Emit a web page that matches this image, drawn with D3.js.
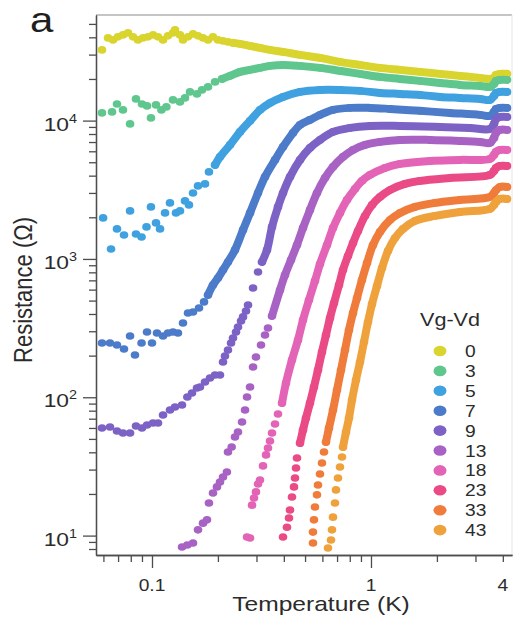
<!DOCTYPE html>
<html>
<head>
<meta charset="utf-8">
<script src="https://cdn.jsdelivr.net/npm/d3@7"></script>
<style>
  html, body { margin: 0; padding: 0; background: #fff; }
  svg { display: block; font-family: "Liberation Sans", Arial, Helvetica, sans-serif; }
</style>
</head>
<body>
<svg id="chart" width="514" height="624"></svg>
<script>
// Gate offset (Vg - Vd) of each trace, with its colour
const gateLabels = ["0", "3", "5", "7", "9", "13", "18", "23", "33", "43"];
const seriesColors = ["#d9d42e", "#5fc78e", "#3fa1df", "#4c7bca", "#7d62c6", "#a862c4", "#e364b6", "#ea4a85", "#ef7c3b", "#efa23b"];
// Temperature (K) above which each sweep is sampled densely enough to read as a solid trace
const traceOnset = [0.23, 0.20, 0.19, 0.178, 0.315, 0.35, 0.39, 0.47, 0.62, 0.74];

// Resistance (ohm) versus temperature (K), one array per gate offset
const r0 = [[0.0591,32450],[0.0630,39630],[0.0664,38330],[0.0699,40300],[0.0737,41660],[0.0777,43060],[0.0819,40300],[0.0863,38330],[0.0910,39630],[0.0959,40300],[0.1011,41660],[0.1065,40300],[0.1123,38330],[0.1183,40980],[0.1247,43060],[0.1274,45270],[0.1342,41660],[0.1385,38330],[0.1460,40300],[0.1539,42350],[0.1622,40980],[0.1710,39630],[0.1802,38330],[0.1899,40300],[0.2001,38330],[0.2110,37700],[0.2223,37070],
  [0.2344,36460],[0.2523,35860],[0.2803,34680],[0.3113,33550],[0.3458,32450],[0.3965,31390],[0.4741,29850],[0.5849,28390],[0.7219,26580],[0.8909,25280],[1.099,24060],[1.357,23270],[1.674,22500],[2.066,21770],[2.549,21050],[3.146,20360],[3.494,20020],[3.645,20360],[3.723,21410],[3.882,21770],[4.091,21770],[4.178,21770]];
const r3 = [[0.0591,11370],[0.0657,11560],[0.0692,13200],[0.0737,11950],[0.0794,9465],[0.0845,14350],[0.0900,13200],[0.0949,12770],[0.0989,10460],[0.1043,12990],[0.1104,11950],[0.1163,12560],[0.1247,14110],[0.1342,13650],[0.1415,14590],[0.1491,16130],[0.1605,15600],[0.1692,16670],[0.1802,17530],[0.1940,19050],
  [0.2088,20020],[0.2271,21050],[0.2523,22500],[0.2803,23270],[0.3113,24060],[0.3458,24870],[0.3965,25280],[0.4741,24870],[0.5849,24060],[0.7219,22880],[0.8909,21770],[1.099,20700],[1.357,20020],[1.674,19370],[2.066,18730],[2.549,18120],[3.146,17820],[3.494,17530],[3.645,18420],[3.723,19370],[3.882,19700],[4.178,19700]];
const r5 = [[0.0598,1980],[0.0650,1181],[0.0692,1648],[0.0745,1491],[0.0794,2225],[0.0845,1516],[0.0896,1442],[0.0944,1704],[0.0989,2378],[0.1043,1822],[0.1088,1648],[0.1147,2151],[0.1208,2541],[0.1287,2151],[0.1342,2225],[0.1415,2627],[0.1475,2458],[0.1539,3000],[0.1622,3372],[0.1746,3486],[0.1820,4257],
  [0.1940,4783],[0.2044,5465],[0.2271,6673],[0.2523,8285],[0.2803,9950],[0.3113,11950],[0.3458,13420],[0.3965,14840],[0.4741,16130],[0.5849,16670],[0.7219,16670],[0.8909,16400],[1.099,15860],[1.357,15600],[1.674,15340],[2.066,14840],[2.549,14590],[3.146,14350],[3.494,14110],[3.645,15090],[3.723,15860],[3.882,16130],[4.178,16130]];
const r7 = [[0.0591,247],[0.0643,247],[0.0692,238.9],[0.0745,223.5],[0.0794,277.5],[0.0836,202.3],[0.0896,247],[0.0949,296.7],[0.1000,247],[0.1054,291.7],[0.1123,277.5],[0.1183,291.7],[0.1247,296.7],[0.1314,291.7],[0.1385,344.6],[0.1460,406.9],[0.1539,413.7],[0.1639,442.3],[0.1728,489],
  [0.1802,549.1],[0.1899,648.6],[0.2001,728.8],[0.2110,832.7],[0.2223,951],[0.2393,1162],[0.2604,1621],[0.2803,2151],[0.3048,3000],[0.3281,3917],[0.3645,5199],[0.3965,6455],[0.4404,8150],[0.4741,9310],[0.5265,10120],[0.5849,11000],[0.6707,11950],[0.8020,12360],[0.9895,12360],[1.221,12150],[1.674,11760],[2.295,11370],[3.146,11000],[3.494,10820],[3.645,11560],[3.723,12150],[3.882,12360],[4.178,12360]];
const r9 = [[0.0591,60.0],[0.0643,61.0],[0.0692,57.1],[0.0737,55.2],[0.0794,55.2],[0.0845,62.0],[0.0900,60.0],[0.0949,63.1],[0.1011,65.2],[0.1065,65.2],[0.1123,74.5],[0.1208,80.9],[0.1274,85.1],[0.1371,88.0],[0.1450,100.5],[0.1523,107.4],[0.1605,116.8],[0.1656,118.7],[0.1746,129.0],[0.1840,137.9],[0.1940,145.0],[0.2044,145.0],[0.2110,180.0],[0.2154,198.9],[0.2223,219.8],[0.2296,247.0],[0.2344,268.5],[0.2419,296.7],[0.2470,322.4],[0.2550,356.2],[0.2604,381],[0.2687,420.7],[0.2745,465.0],[0.2893,617.0],[0.3048,805],
  [0.3178,951],[0.3351,1162],[0.3532,1704],[0.3761,2378],[0.3965,3000],[0.4267,3917],[0.4741,5199],[0.5265,6350],[0.5849,7252],[0.6707,8285],[0.8020,8856],[0.9895,9155],[1.357,9155],[2.066,9004],[2.832,8856],[3.494,8711],[3.645,9465],[3.723,10290],[3.882,10640],[4.178,10640]];
const r13 = [[0.1371,8.27],[0.1450,8.55],[0.1539,8.84],[0.1622,11.0],[0.1710,12.3],[0.1783,13.0],[0.1820,17.2],[0.1899,20.3],[0.1980,22.5],[0.2044,24.4],[0.2110,26.5],[0.2198,28.8],[0.2223,40.2],[0.2311,43.7],[0.2393,51.6],[0.2470,56.1],[0.2577,66.3],[0.2660,80.9],[0.2716,100.5],[0.2803,118.7],[0.2893,165.6],[0.2984,195.6],[0.3146,238.9],[0.3281,282.2],[0.3386,317.1],
  [0.3532,387.1],[0.3842,596.7],[0.4049,766.1],[0.4312,983.5],[0.4593,1262],[0.4893,1676],[0.5265,2262],[0.5667,3000],[0.6166,3852],[0.6707,4626],[0.7451,5465],[0.8277,6140],[0.9389,6673],[1.099,7015],[1.357,7252],[1.859,7252],[2.549,7133],[3.146,7015],[3.494,6900],[3.645,7496],[3.723,8150],[3.882,8566],[4.178,8566]];
const r18 = [[0.2716,9.77],[0.2803,9.61],[0.2863,16.6],[0.2923,18.7],[0.2984,20.7],[0.3048,23.6],[0.3113,25.2],[0.3213,31.9],[0.3317,38.3],[0.3386,43.0],[0.3458,48.3],[0.3532,55.2],[0.3645,64.1],[0.3761,75.7],
  [0.3924,90.9],[0.4092,126.9],[0.4358,186.1],[0.4642,259.7],[0.4893,362.2],[0.5210,505.3],[0.5549,693.6],[0.5849,920.2],[0.6297,1262],[0.6707,1676],[0.7219,2151],[0.7771,2671],[0.8453,3208],[0.9095,3665],[0.9895,4049],[1.158,4550],[1.357,4864],[1.859,5113],[2.549,5199],[3.494,5287],[3.645,5650],[3.723,5952],[3.882,6140],[4.178,6140]];
const r23 = [[0.3965,9.77],[0.4134,11.5],[0.4222,13.4],[0.4267,15.3],[0.4358,19.0],[0.4451,22.5],[0.4498,26.1],[0.4545,30.8],[0.4593,36.4],
  [0.4741,46.7],[0.4893,58.0],[0.5047,70.8],[0.5265,90.9],[0.5491,118.7],[0.5728,157.5],[0.5973,212.6],[0.6231,282.2],[0.6498,374.5],[0.6778,480.7],[0.7144,648.6],[0.7451,832.7],[0.7852,1051],[0.8277,1305],[0.8724,1594],[0.9389,2046],[1.011,2458],[1.099,2807],[1.221,3154],[1.430,3486],[1.674,3665],[2.295,3852],[3.494,4049],[3.645,4328],[3.723,4550],[3.882,4704],[4.178,4704]];
const r33 = [[0.5433,8.84],[0.5433,10.6],[0.5491,13.0],[0.5549,16.1],[0.5667,19.7],[0.5728,23.2],[0.5849,27.9],[0.5973,33.5],[0.6101,40.2],
  [0.6231,47.5],[0.6430,60.0],[0.6707,80.9],[0.6994,112.9],[0.7297,157.5],[0.7609,219.8],[0.7935,306.7],[0.8277,406.9],[0.8633,522.4],[0.9095,705],[0.9592,935.6],[1.021,1262],[1.099,1568],[1.221,1914],[1.357,2151],[1.588,2378],[1.960,2541],[2.549,2671],[3.494,2807],[3.645,3000],[3.723,3154],[3.882,3316],[4.178,3316]];
const r43 = [[0.6363,8.13],[0.6567,9.29],[0.6637,11.0],[0.6707,13.6],[0.6849,17.2],[0.6921,21.4],[0.7069,26.1],[0.7219,31.3],[0.7373,37.0],
  [0.7451,43.7],[0.7690,56.1],[0.7935,70.8],[0.8191,95.6],[0.8543,133.4],[0.8909,180.0],[0.9291,251.2],[0.9690,350.3],[1.011,472.8],[1.065,637.8],[1.123,860.9],[1.196,1143],[1.287,1418],[1.400,1648],[1.588,1883],[1.960,2046],[2.549,2187],[3.494,2300],[3.645,2458],[3.723,2584],[3.882,2716],[4.178,2716]];
const seriesData = [r0, r3, r5, r7, r9, r13, r18, r23, r33, r43];

// Axis ticks and their labels
const xMinorTicks = [0.06, 0.07, 0.08, 0.09, 0.2, 0.3, 0.4, 0.5, 0.6, 0.7, 0.8, 0.9, 2, 3, 4];
const xMajorTicks = [0.1, 1];
const xLabelValues = [0.1, 1, 4];
const xLabelText = ["0.1", "1", "4"];
const yMajorTicks = [10, 100, 1000, 10000];
const yExponents = ["1", "2", "3", "4"];
const yMinorTicks = [8, 9, 20, 30, 40, 50, 60, 70, 80, 90, 200, 300, 400, 500, 600, 700, 800, 900,
  2000, 3000, 4000, 5000, 6000, 7000, 8000, 9000, 20000, 30000, 40000, 50000];

const svg = d3.select("#chart");
const textColor = "#2b2b2b";
const axisColor = "#4d4d4d";
const stretch = "scale(1.2,1)";

const x = d3.scaleLog().domain([0.0555, 4.405]).range([96, 512]);
const y = d3.scaleLog().domain([7.24, 58000]).range([555, 15]);
const [x0, x1] = x.range();
const [yBottom, yTop] = y.range();

// frame: light top and right edges
svg.append("line").attr("x1", x0).attr("x2", x1).attr("y1", yTop).attr("y2", yTop)
  .attr("stroke", "#8c8c8c").attr("stroke-width", 1.2);
svg.append("line").attr("x1", x1).attr("x2", x1).attr("y1", yTop).attr("y2", yBottom)
  .attr("stroke", "#e6e6e6").attr("stroke-width", 1);

function styleAxis(g) {
  g.selectAll("path, line").attr("stroke", axisColor).attr("stroke-width", 1.3);
  g.selectAll("text").remove();
}

// bottom axis: short minor ticks, long decade ticks
svg.append("g").attr("transform", `translate(0,${yBottom})`)
  .call(d3.axisBottom(x).tickValues(xMinorTicks).tickSize(7).tickSizeOuter(0).tickFormat(""))
  .call(styleAxis);
svg.append("g").attr("transform", `translate(0,${yBottom})`)
  .call(d3.axisBottom(x).tickValues(xMajorTicks).tickSize(13).tickSizeOuter(0).tickFormat(""))
  .call(styleAxis);

// left axis
svg.append("g").attr("transform", `translate(${x0},0)`)
  .call(d3.axisLeft(y).tickValues(yMinorTicks).tickSize(7).tickSizeOuter(0).tickFormat(""))
  .call(styleAxis);
svg.append("g").attr("transform", `translate(${x0},0)`)
  .call(d3.axisLeft(y).tickValues(yMajorTicks).tickSize(13).tickSizeOuter(0).tickFormat(""))
  .call(styleAxis);

// tick labels
xLabelValues.forEach((v, i) => {
  svg.append("text")
    .attr("transform", `translate(${x(v)},591) ${stretch}`)
    .attr("text-anchor", "middle").attr("font-size", 16).attr("fill", textColor)
    .text(xLabelText[i]);
});
yMajorTicks.forEach((v, i) => {
  const t = svg.append("text")
    .attr("transform", `translate(${x0 - 19},${y(v) + 10}) ${stretch}`)
    .attr("text-anchor", "end").attr("font-size", 19).attr("fill", textColor);
  t.append("tspan").text("10");
  t.append("tspan").attr("font-size", 12).attr("dy", -8).text(yExponents[i]);
});

// axis titles
svg.append("text")
  .attr("transform", `translate(${(x0 + x1) / 2 + 17},611) ${stretch}`)
  .attr("text-anchor", "middle").attr("font-size", 20.5).attr("fill", textColor)
  .text("Temperature (K)");
svg.append("text")
  .attr("transform", `translate(32,290) ${stretch} rotate(-90)`)
  .attr("text-anchor", "middle").attr("font-size", 22).attr("fill", textColor)
  .text("Resistance (\u03A9)");

// panel letter
svg.append("text")
  .attr("transform", `translate(30,32) ${stretch}`)
  .attr("font-size", 35).attr("fill", "#1e1e1e")
  .text("a");

// traces: a solid band where the sweep is dense, single markers everywhere
const trace = d3.line()
  .x(d => x(d[0]))
  .y(d => y(d[1]))
  .curve(d3.curveCatmullRom.alpha(0.5));

const plot = svg.append("g");
seriesData.forEach((pts, i) => {
  const g = plot.append("g").attr("fill", seriesColors[i]);
  g.append("path")
    .datum(pts.filter(d => d[0] >= traceOnset[i]))
    .attr("d", trace)
    .attr("fill", "none")
    .attr("stroke", seriesColors[i])
    .attr("stroke-width", 8)
    .attr("stroke-linecap", "round")
    .attr("stroke-linejoin", "round");
  g.selectAll("ellipse").data(pts).join("ellipse")
    .attr("cx", d => x(d[0]))
    .attr("cy", d => y(d[1]))
    .attr("rx", 4.3)
    .attr("ry", 3.8);
});

// legend
const legend = svg.append("g");
legend.append("text")
  .attr("transform", `translate(420,326) ${stretch}`)
  .attr("font-size", 18).attr("fill", textColor)
  .text("Vg-Vd");
gateLabels.forEach((lab, i) => {
  const cy = 351 + i * 19.9;
  legend.append("ellipse").attr("cx", 440).attr("cy", cy).attr("rx", 6.5).attr("ry", 5.3)
    .attr("fill", seriesColors[i]);
  legend.append("text")
    .attr("transform", `translate(465,${cy + 6}) ${stretch}`)
    .attr("font-size", 16).attr("fill", textColor)
    .text(lab);
});
</script>
</body>
</html>
